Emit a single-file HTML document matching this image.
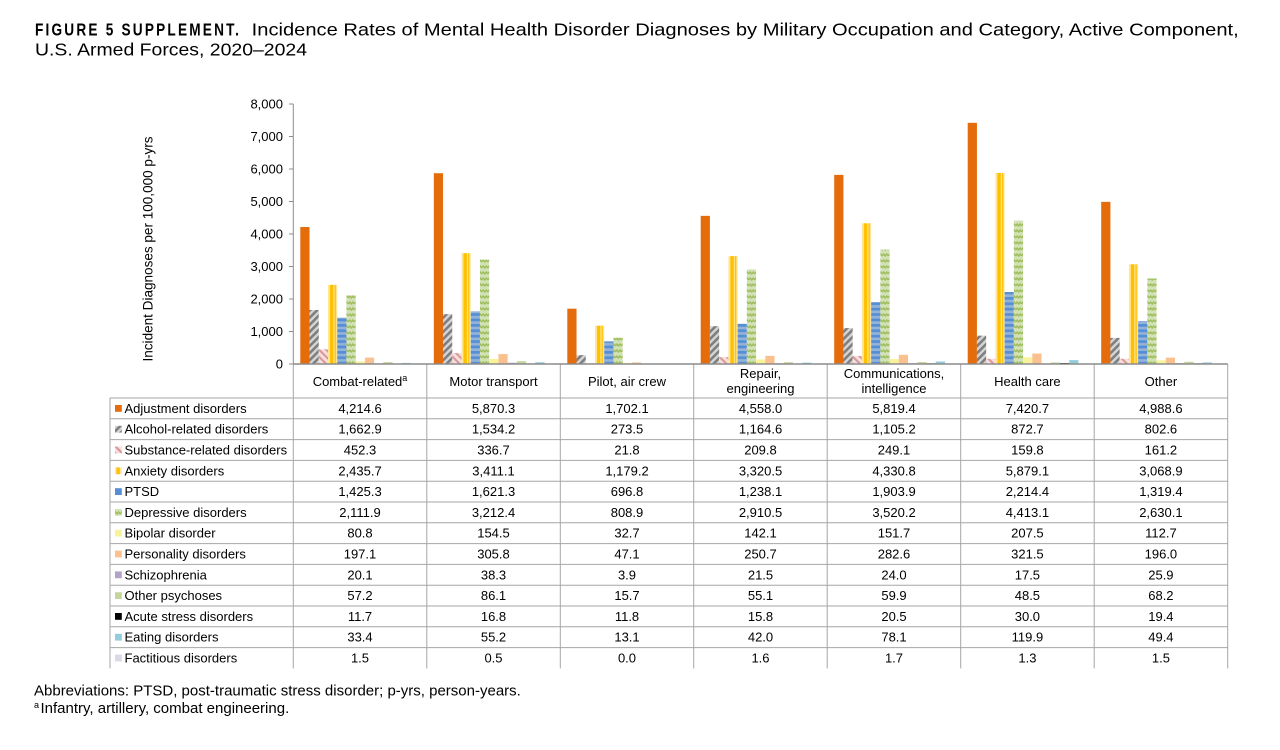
<!DOCTYPE html>
<html><head><meta charset="utf-8"><style>
html,body{margin:0;padding:0;background:#fff;}
svg{display:block;}
text{font-family:"Liberation Sans",Arial,sans-serif;fill:#000;}
.b0{fill:#E46C0A}.b1{fill:url(#pAlc)}.b2{fill:url(#pSub)}.b3{fill:url(#pAnx)}.b4{fill:url(#pPtsd)}.b5{fill:url(#pDep)}
.b6{fill:#F8F39A}.b7{fill:#FAC090}.b8{fill:#B3A2C7}.b9{fill:#C3D69B}.b10{fill:#000}.b11{fill:#93CDDD}.b12{fill:#D9D9E8}
.k3{fill:url(#kAnx)}
</style></head><body>
<svg width="1280" height="750" viewBox="0 0 1280 750" xmlns="http://www.w3.org/2000/svg">
<defs>
<pattern id="pAlc" patternUnits="userSpaceOnUse" width="5" height="5" patternTransform="rotate(45)">
<rect width="5" height="5" fill="#d6d6d6"/><rect width="2.6" height="5" fill="#7f7f7f"/></pattern>
<pattern id="pSub" patternUnits="userSpaceOnUse" width="5" height="5" patternTransform="rotate(-45)">
<rect width="5" height="5" fill="#f6dede"/><rect width="2" height="5" fill="#d99694"/></pattern>
<pattern id="pAnx" patternUnits="userSpaceOnUse" x="27.69" y="0" width="9.23" height="10">
<rect width="9.23" height="10" fill="#FFE699"/><rect x="2" width="3.4" height="10" fill="#FFC000"/><rect x="6.6" width="1.3" height="10" fill="#FFC000"/></pattern>
<pattern id="kAnx" patternUnits="userSpaceOnUse" x="115" y="0" width="6.8" height="10">
<rect width="6.8" height="10" fill="#FFE699"/><rect x="1.5" width="3.3" height="10" fill="#FFC000"/></pattern>
<pattern id="pPtsd" patternUnits="userSpaceOnUse" width="10" height="5.4">
<rect width="10" height="5.4" fill="#95B3D7"/><rect width="10" height="2.7" fill="#558ED5"/></pattern>
<pattern id="pDep" patternUnits="userSpaceOnUse" width="6" height="6">
<rect width="6" height="6" fill="#D3E2B6"/><path d="M0,4 L1.5,2 L3,4 L4.5,2 L6,4" fill="none" stroke="#9BBB59" stroke-width="1.3"/></pattern>
</defs>

<!-- Title -->
<g transform="scale(0.78,1)">
<text x="44.87" y="35.7" font-size="17.5" font-weight="bold" textLength="261.5" lengthAdjust="spacing">FIGURE 5 SUPPLEMENT.</text>
</g>
<text x="251.7" y="35.7" font-size="17.5" textLength="987" lengthAdjust="spacingAndGlyphs">Incidence Rates of Mental Health Disorder Diagnoses by Military Occupation and Category, Active Component,</text>
<text x="35" y="55.7" font-size="17.5" textLength="272" lengthAdjust="spacingAndGlyphs">U.S. Armed Forces, 2020–2024</text>

<!-- Y axis title -->
<text transform="translate(152.5,249) rotate(-90)" font-size="13.5" text-anchor="middle" textLength="225" lengthAdjust="spacingAndGlyphs">Incident Diagnoses per 100,000 p-yrs</text>

<!-- Y ticks labels -->
<g font-size="13" text-anchor="end">
<text x="283" y="108.5">8,000</text>
<text x="283" y="141">7,000</text>
<text x="283" y="173.5">6,000</text>
<text x="283" y="206">5,000</text>
<text x="283" y="238.5">4,000</text>
<text x="283" y="271">3,000</text>
<text x="283" y="303.5">2,000</text>
<text x="283" y="336">1,000</text>
<text x="283" y="368.5">0</text>
</g>
<g stroke="#8c8c8c" stroke-width="1">
<line x1="293.3" y1="104" x2="293.3" y2="364"/>
<line x1="289" y1="104" x2="293.3" y2="104"/>
<line x1="289" y1="136.5" x2="293.3" y2="136.5"/>
<line x1="289" y1="169" x2="293.3" y2="169"/>
<line x1="289" y1="201.5" x2="293.3" y2="201.5"/>
<line x1="289" y1="234" x2="293.3" y2="234"/>
<line x1="289" y1="266.5" x2="293.3" y2="266.5"/>
<line x1="289" y1="299" x2="293.3" y2="299"/>
<line x1="289" y1="331.5" x2="293.3" y2="331.5"/>
<line x1="289" y1="364" x2="293.3" y2="364"/>
</g>

<!-- Bars -->
<g transform="translate(300.3,0)">
<rect class="b0" x="0" y="227.03" width="9.23" height="136.97"/>
<rect class="b1" x="9.23" y="309.96" width="9.23" height="54.04"/>
<rect class="b2" x="18.46" y="349.30" width="9.23" height="14.70"/>
<rect class="b3" x="27.69" y="284.84" width="9.23" height="79.16"/>
<rect class="b4" x="36.92" y="317.68" width="9.23" height="46.32"/>
<rect class="b5" x="46.15" y="295.36" width="9.23" height="68.64"/>
<rect class="b6" x="55.38" y="361.37" width="9.23" height="2.63"/>
<rect class="b7" x="64.61" y="357.59" width="9.23" height="6.41"/>
<rect class="b8" x="73.84" y="363.35" width="9.23" height="0.65"/>
<rect class="b9" x="83.07" y="362.14" width="9.23" height="1.86"/>
<rect class="b10" x="92.3" y="363.62" width="9.23" height="0.38"/>
<rect class="b11" x="101.53" y="362.91" width="9.23" height="1.09"/>
</g>
<g transform="translate(433.8,0)">
<rect class="b0" x="0" y="173.22" width="9.23" height="190.78"/>
<rect class="b1" x="9.23" y="314.14" width="9.23" height="49.86"/>
<rect class="b2" x="18.46" y="353.06" width="9.23" height="10.94"/>
<rect class="b3" x="27.69" y="253.14" width="9.23" height="110.86"/>
<rect class="b4" x="36.92" y="311.31" width="9.23" height="52.69"/>
<rect class="b5" x="46.15" y="259.60" width="9.23" height="104.40"/>
<rect class="b6" x="55.38" y="358.98" width="9.23" height="5.02"/>
<rect class="b7" x="64.61" y="354.06" width="9.23" height="9.94"/>
<rect class="b8" x="73.84" y="362.76" width="9.23" height="1.24"/>
<rect class="b9" x="83.07" y="361.20" width="9.23" height="2.80"/>
<rect class="b10" x="92.3" y="363.45" width="9.23" height="0.55"/>
<rect class="b11" x="101.53" y="362.21" width="9.23" height="1.79"/>
</g>
<g transform="translate(567.3,0)">
<rect class="b0" x="0" y="308.68" width="9.23" height="55.32"/>
<rect class="b1" x="9.23" y="355.11" width="9.23" height="8.89"/>
<rect class="b2" x="18.46" y="363.29" width="9.23" height="0.71"/>
<rect class="b3" x="27.69" y="325.68" width="9.23" height="38.32"/>
<rect class="b4" x="36.92" y="341.35" width="9.23" height="22.65"/>
<rect class="b5" x="46.15" y="337.71" width="9.23" height="26.29"/>
<rect class="b6" x="55.38" y="362.94" width="9.23" height="1.06"/>
<rect class="b7" x="64.61" y="362.47" width="9.23" height="1.53"/>
<rect class="b9" x="83.07" y="363.49" width="9.23" height="0.51"/>
<rect class="b10" x="92.3" y="363.62" width="9.23" height="0.38"/>
<rect class="b11" x="101.53" y="363.57" width="9.23" height="0.43"/>
</g>
<g transform="translate(700.7,0)">
<rect class="b0" x="0" y="215.86" width="9.23" height="148.14"/>
<rect class="b1" x="9.23" y="326.15" width="9.23" height="37.85"/>
<rect class="b2" x="18.46" y="357.18" width="9.23" height="6.82"/>
<rect class="b3" x="27.69" y="256.08" width="9.23" height="107.92"/>
<rect class="b4" x="36.92" y="323.76" width="9.23" height="40.24"/>
<rect class="b5" x="46.15" y="269.41" width="9.23" height="94.59"/>
<rect class="b6" x="55.38" y="359.38" width="9.23" height="4.62"/>
<rect class="b7" x="64.61" y="355.85" width="9.23" height="8.15"/>
<rect class="b8" x="73.84" y="363.30" width="9.23" height="0.70"/>
<rect class="b9" x="83.07" y="362.21" width="9.23" height="1.79"/>
<rect class="b10" x="92.3" y="363.49" width="9.23" height="0.51"/>
<rect class="b11" x="101.53" y="362.63" width="9.23" height="1.37"/>
</g>
<g transform="translate(834.2,0)">
<rect class="b0" x="0" y="174.87" width="9.23" height="189.13"/>
<rect class="b1" x="9.23" y="328.08" width="9.23" height="35.92"/>
<rect class="b2" x="18.46" y="355.90" width="9.23" height="8.10"/>
<rect class="b3" x="27.69" y="223.25" width="9.23" height="140.75"/>
<rect class="b4" x="36.92" y="302.12" width="9.23" height="61.88"/>
<rect class="b5" x="46.15" y="249.59" width="9.23" height="114.41"/>
<rect class="b6" x="55.38" y="359.07" width="9.23" height="4.93"/>
<rect class="b7" x="64.61" y="354.82" width="9.23" height="9.18"/>
<rect class="b8" x="73.84" y="363.22" width="9.23" height="0.78"/>
<rect class="b9" x="83.07" y="362.05" width="9.23" height="1.95"/>
<rect class="b10" x="92.3" y="363.33" width="9.23" height="0.67"/>
<rect class="b11" x="101.53" y="361.46" width="9.23" height="2.54"/>
</g>
<g transform="translate(967.7,0)">
<rect class="b0" x="0" y="122.83" width="9.23" height="241.17"/>
<rect class="b1" x="9.23" y="335.64" width="9.23" height="28.36"/>
<rect class="b2" x="18.46" y="358.81" width="9.23" height="5.19"/>
<rect class="b3" x="27.69" y="172.93" width="9.23" height="191.07"/>
<rect class="b4" x="36.92" y="292.03" width="9.23" height="71.97"/>
<rect class="b5" x="46.15" y="220.57" width="9.23" height="143.43"/>
<rect class="b6" x="55.38" y="357.26" width="9.23" height="6.74"/>
<rect class="b7" x="64.61" y="353.55" width="9.23" height="10.45"/>
<rect class="b8" x="73.84" y="363.43" width="9.23" height="0.57"/>
<rect class="b9" x="83.07" y="362.42" width="9.23" height="1.58"/>
<rect class="b10" x="92.3" y="363.02" width="9.23" height="0.98"/>
<rect class="b11" x="101.53" y="360.10" width="9.23" height="3.90"/>
</g>
<g transform="translate(1101.2,0)">
<rect class="b0" x="0" y="201.87" width="9.23" height="162.13"/>
<rect class="b1" x="9.23" y="337.92" width="9.23" height="26.08"/>
<rect class="b2" x="18.46" y="358.76" width="9.23" height="5.24"/>
<rect class="b3" x="27.69" y="264.26" width="9.23" height="99.74"/>
<rect class="b4" x="36.92" y="321.12" width="9.23" height="42.88"/>
<rect class="b5" x="46.15" y="278.52" width="9.23" height="85.48"/>
<rect class="b6" x="55.38" y="360.34" width="9.23" height="3.66"/>
<rect class="b7" x="64.61" y="357.63" width="9.23" height="6.37"/>
<rect class="b8" x="73.84" y="363.16" width="9.23" height="0.84"/>
<rect class="b9" x="83.07" y="361.78" width="9.23" height="2.22"/>
<rect class="b10" x="92.3" y="363.37" width="9.23" height="0.63"/>
<rect class="b11" x="101.53" y="362.39" width="9.23" height="1.61"/>
</g>

<!-- Table grid -->
<g stroke="#a6a6a6" stroke-width="1">
<line x1="110" y1="398" x2="1227.7" y2="398"/>
<line x1="110" y1="418.8" x2="1227.7" y2="418.8"/>
<line x1="110" y1="439.6" x2="1227.7" y2="439.6"/>
<line x1="110" y1="460.4" x2="1227.7" y2="460.4"/>
<line x1="110" y1="481.2" x2="1227.7" y2="481.2"/>
<line x1="110" y1="502" x2="1227.7" y2="502"/>
<line x1="110" y1="522.8" x2="1227.7" y2="522.8"/>
<line x1="110" y1="543.6" x2="1227.7" y2="543.6"/>
<line x1="110" y1="564.4" x2="1227.7" y2="564.4"/>
<line x1="110" y1="585.2" x2="1227.7" y2="585.2"/>
<line x1="110" y1="606" x2="1227.7" y2="606"/>
<line x1="110" y1="626.8" x2="1227.7" y2="626.8"/>
<line x1="110" y1="647.6" x2="1227.7" y2="647.6"/>
<line x1="110" y1="398" x2="110" y2="668.4"/>
<line x1="293.3" y1="364" x2="293.3" y2="668.4"/>
<line x1="426.8" y1="364" x2="426.8" y2="668.4"/>
<line x1="560.3" y1="364" x2="560.3" y2="668.4"/>
<line x1="693.7" y1="364" x2="693.7" y2="668.4"/>
<line x1="827.2" y1="364" x2="827.2" y2="668.4"/>
<line x1="960.7" y1="364" x2="960.7" y2="668.4"/>
<line x1="1094.2" y1="364" x2="1094.2" y2="668.4"/>
<line x1="1227.7" y1="364" x2="1227.7" y2="668.4"/>
</g>
<line x1="293.3" y1="364" x2="1227.7" y2="364" stroke="#8c8c8c" stroke-width="1.4"/>

<!-- Header -->
<g font-size="13" text-anchor="middle">
<text x="360" y="386">Combat-related<tspan font-size="9" dy="-5">a</tspan></text>
<text x="493.5" y="386">Motor transport</text>
<text x="627" y="386">Pilot, air crew</text>
<text x="760.5" y="378">Repair,</text>
<text x="760.5" y="393">engineering</text>
<text x="894" y="378">Communications,</text>
<text x="894" y="393">intelligence</text>
<text x="1027.4" y="386">Health care</text>
<text x="1160.9" y="386">Other</text>
</g>

<!-- Legend keys -->
<rect class="b0" x="115" y="405" width="6.8" height="6.8"/>
<rect class="b1" x="115" y="425.8" width="6.8" height="6.8"/>
<rect class="b2" x="115" y="446.6" width="6.8" height="6.8"/>
<rect class="k3" x="115" y="467.4" width="6.8" height="6.8"/>
<rect class="b4" x="115" y="488.2" width="6.8" height="6.8" style="fill:#558ED5"/>
<rect class="b5" x="115" y="509" width="6.8" height="6.8"/>
<rect class="b6" x="115" y="529.8" width="6.8" height="6.8"/>
<rect class="b7" x="115" y="550.6" width="6.8" height="6.8"/>
<rect class="b8" x="115" y="571.4" width="6.8" height="6.8"/>
<rect class="b9" x="115" y="592.2" width="6.8" height="6.8"/>
<rect class="b10" x="115" y="613" width="6.8" height="6.8"/>
<rect class="b11" x="115" y="633.8" width="6.8" height="6.8"/>
<rect class="b12" x="115" y="654.6" width="6.8" height="6.8"/>

<!-- Row labels -->
<g font-size="13">
<text x="124.5" y="412.9">Adjustment disorders</text>
<text x="124.5" y="433.7">Alcohol-related disorders</text>
<text x="124.5" y="454.5">Substance-related disorders</text>
<text x="124.5" y="475.3">Anxiety disorders</text>
<text x="124.5" y="496.1">PTSD</text>
<text x="124.5" y="516.9">Depressive disorders</text>
<text x="124.5" y="537.7">Bipolar disorder</text>
<text x="124.5" y="558.5">Personality disorders</text>
<text x="124.5" y="579.3">Schizophrenia</text>
<text x="124.5" y="600.1">Other psychoses</text>
<text x="124.5" y="620.9">Acute stress disorders</text>
<text x="124.5" y="641.7">Eating disorders</text>
<text x="124.5" y="662.5">Factitious disorders</text>
</g>

<!-- Values -->
<g font-size="13" text-anchor="middle">
<text x="360" y="412.9">4,214.6</text><text x="360" y="433.7">1,662.9</text><text x="360" y="454.5">452.3</text><text x="360" y="475.3">2,435.7</text><text x="360" y="496.1">1,425.3</text><text x="360" y="516.9">2,111.9</text><text x="360" y="537.7">80.8</text><text x="360" y="558.5">197.1</text><text x="360" y="579.3">20.1</text><text x="360" y="600.1">57.2</text><text x="360" y="620.9">11.7</text><text x="360" y="641.7">33.4</text><text x="360" y="662.5">1.5</text>

<text x="493.5" y="412.9">5,870.3</text><text x="493.5" y="433.7">1,534.2</text><text x="493.5" y="454.5">336.7</text><text x="493.5" y="475.3">3,411.1</text><text x="493.5" y="496.1">1,621.3</text><text x="493.5" y="516.9">3,212.4</text><text x="493.5" y="537.7">154.5</text><text x="493.5" y="558.5">305.8</text><text x="493.5" y="579.3">38.3</text><text x="493.5" y="600.1">86.1</text><text x="493.5" y="620.9">16.8</text><text x="493.5" y="641.7">55.2</text><text x="493.5" y="662.5">0.5</text>

<text x="627" y="412.9">1,702.1</text><text x="627" y="433.7">273.5</text><text x="627" y="454.5">21.8</text><text x="627" y="475.3">1,179.2</text><text x="627" y="496.1">696.8</text><text x="627" y="516.9">808.9</text><text x="627" y="537.7">32.7</text><text x="627" y="558.5">47.1</text><text x="627" y="579.3">3.9</text><text x="627" y="600.1">15.7</text><text x="627" y="620.9">11.8</text><text x="627" y="641.7">13.1</text><text x="627" y="662.5">0.0</text>

<text x="760.5" y="412.9">4,558.0</text><text x="760.5" y="433.7">1,164.6</text><text x="760.5" y="454.5">209.8</text><text x="760.5" y="475.3">3,320.5</text><text x="760.5" y="496.1">1,238.1</text><text x="760.5" y="516.9">2,910.5</text><text x="760.5" y="537.7">142.1</text><text x="760.5" y="558.5">250.7</text><text x="760.5" y="579.3">21.5</text><text x="760.5" y="600.1">55.1</text><text x="760.5" y="620.9">15.8</text><text x="760.5" y="641.7">42.0</text><text x="760.5" y="662.5">1.6</text>

<text x="894" y="412.9">5,819.4</text><text x="894" y="433.7">1,105.2</text><text x="894" y="454.5">249.1</text><text x="894" y="475.3">4,330.8</text><text x="894" y="496.1">1,903.9</text><text x="894" y="516.9">3,520.2</text><text x="894" y="537.7">151.7</text><text x="894" y="558.5">282.6</text><text x="894" y="579.3">24.0</text><text x="894" y="600.1">59.9</text><text x="894" y="620.9">20.5</text><text x="894" y="641.7">78.1</text><text x="894" y="662.5">1.7</text>

<text x="1027.4" y="412.9">7,420.7</text><text x="1027.4" y="433.7">872.7</text><text x="1027.4" y="454.5">159.8</text><text x="1027.4" y="475.3">5,879.1</text><text x="1027.4" y="496.1">2,214.4</text><text x="1027.4" y="516.9">4,413.1</text><text x="1027.4" y="537.7">207.5</text><text x="1027.4" y="558.5">321.5</text><text x="1027.4" y="579.3">17.5</text><text x="1027.4" y="600.1">48.5</text><text x="1027.4" y="620.9">30.0</text><text x="1027.4" y="641.7">119.9</text><text x="1027.4" y="662.5">1.3</text>

<text x="1160.9" y="412.9">4,988.6</text><text x="1160.9" y="433.7">802.6</text><text x="1160.9" y="454.5">161.2</text><text x="1160.9" y="475.3">3,068.9</text><text x="1160.9" y="496.1">1,319.4</text><text x="1160.9" y="516.9">2,630.1</text><text x="1160.9" y="537.7">112.7</text><text x="1160.9" y="558.5">196.0</text><text x="1160.9" y="579.3">25.9</text><text x="1160.9" y="600.1">68.2</text><text x="1160.9" y="620.9">19.4</text><text x="1160.9" y="641.7">49.4</text><text x="1160.9" y="662.5">1.5</text>
</g>

<!-- Footnotes -->
<text x="34" y="695.5" font-size="15">Abbreviations: PTSD, post-traumatic stress disorder; p-yrs, person-years.</text>
<text x="34" y="713" font-size="15"><tspan font-size="9" dy="-5">a</tspan><tspan dy="5" x="40.5">Infantry, artillery, combat engineering.</tspan></text>
</svg>
</body></html>
